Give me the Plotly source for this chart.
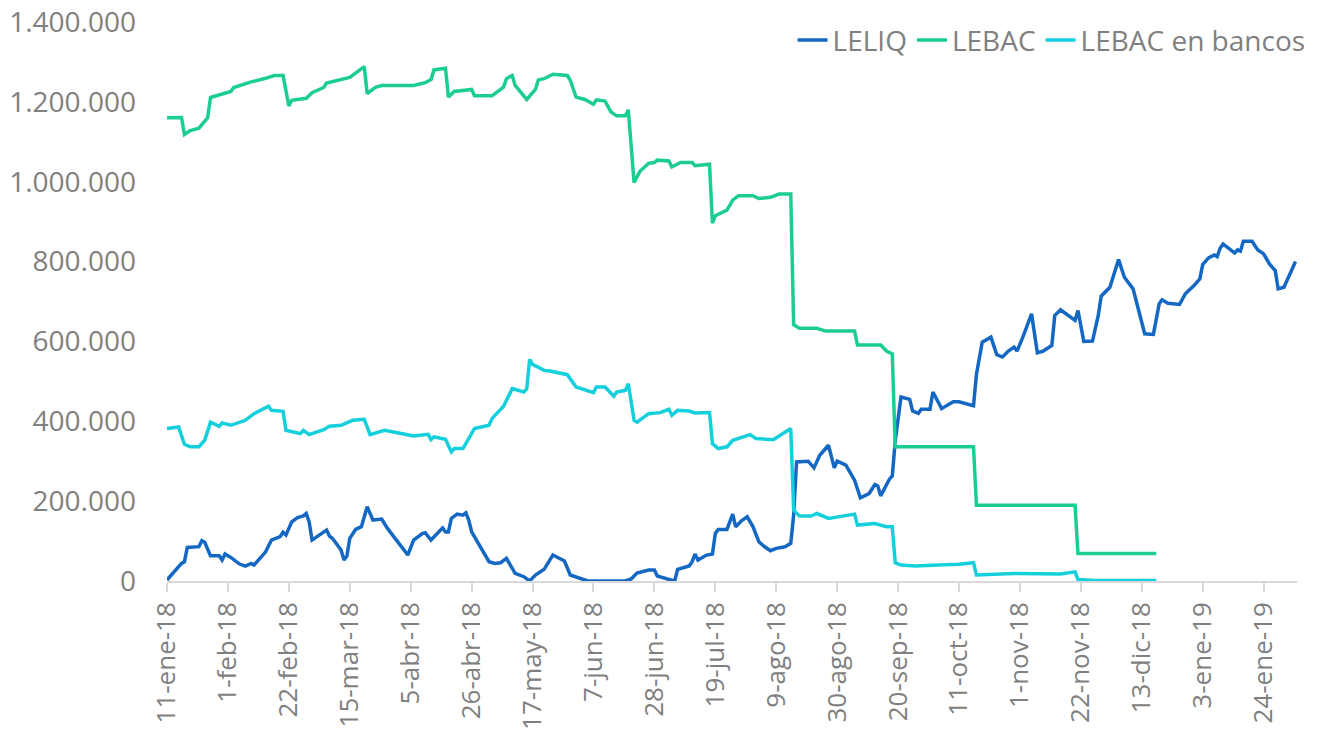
import plotly.graph_objects as go

# ---------------- data ----------------
leliq_dates = [
    "2018-01-11", "2018-01-13", "2018-01-16", "2018-01-17", "2018-01-18", "2018-01-22", "2018-01-23",
    "2018-01-24", "2018-01-26", "2018-01-29", "2018-01-30", "2018-01-31", "2018-02-02", "2018-02-05",
    "2018-02-07", "2018-02-09", "2018-02-10", "2018-02-14", "2018-02-16", "2018-02-19", "2018-02-20",
    "2018-02-21", "2018-02-23", "2018-02-25", "2018-02-27", "2018-02-28", "2018-03-01", "2018-03-02",
    "2018-03-06", "2018-03-07", "2018-03-08", "2018-03-09", "2018-03-12", "2018-03-13", "2018-03-14",
    "2018-03-15", "2018-03-17", "2018-03-19", "2018-03-21", "2018-03-23", "2018-03-26", "2018-03-28",
    "2018-04-04", "2018-04-06", "2018-04-09", "2018-04-10", "2018-04-12", "2018-04-15", "2018-04-16",
    "2018-04-17", "2018-04-18", "2018-04-19", "2018-04-21", "2018-04-23", "2018-04-24", "2018-04-25",
    "2018-04-26", "2018-05-02", "2018-05-04", "2018-05-06", "2018-05-08", "2018-05-09", "2018-05-11",
    "2018-05-14", "2018-05-16", "2018-05-18", "2018-05-21", "2018-05-24", "2018-05-28", "2018-05-30",
    "2018-06-02", "2018-06-05", "2018-06-18", "2018-06-20", "2018-06-22", "2018-06-26", "2018-06-28",
    "2018-06-29", "2018-07-03", "2018-07-05", "2018-07-06", "2018-07-10", "2018-07-11", "2018-07-12",
    "2018-07-13", "2018-07-16", "2018-07-18", "2018-07-19", "2018-07-20", "2018-07-23", "2018-07-25",
    "2018-07-26", "2018-07-28", "2018-07-30", "2018-08-01", "2018-08-03", "2018-08-05", "2018-08-07",
    "2018-08-09", "2018-08-12", "2018-08-14", "2018-08-15", "2018-08-16", "2018-08-20", "2018-08-22",
    "2018-08-24", "2018-08-27", "2018-08-29", "2018-08-30", "2018-09-02", "2018-09-05", "2018-09-07",
    "2018-09-10", "2018-09-12", "2018-09-13", "2018-09-14", "2018-09-17", "2018-09-18", "2018-09-19",
    "2018-09-21", "2018-09-24", "2018-09-25", "2018-09-27", "2018-09-28", "2018-10-01", "2018-10-02",
    "2018-10-05", "2018-10-09", "2018-10-11", "2018-10-16", "2018-10-17", "2018-10-19", "2018-10-22",
    "2018-10-24", "2018-10-26", "2018-10-28", "2018-10-30", "2018-10-31", "2018-11-02", "2018-11-05",
    "2018-11-07", "2018-11-09", "2018-11-12", "2018-11-13", "2018-11-15", "2018-11-20", "2018-11-21",
    "2018-11-23", "2018-11-26", "2018-11-28", "2018-11-29", "2018-12-02", "2018-12-05", "2018-12-07",
    "2018-12-10", "2018-12-12", "2018-12-14", "2018-12-17", "2018-12-19", "2018-12-20", "2018-12-22",
    "2018-12-26", "2018-12-28", "2018-12-31", "2019-01-02", "2019-01-03", "2019-01-05", "2019-01-07",
    "2019-01-08", "2019-01-09", "2019-01-10", "2019-01-14", "2019-01-15", "2019-01-16", "2019-01-17",
    "2019-01-20", "2019-01-22", "2019-01-24", "2019-01-26", "2019-01-28", "2019-01-29", "2019-01-31",
    "2019-02-04",
]
leliq_values = [
    2500, 19000, 44000, 48000, 84000, 86000, 101000,
    97000, 63000, 63000, 52500, 67500, 59000, 42500,
    37500, 44000, 40000, 73000, 102500, 111000, 122000,
    115000, 148000, 159000, 163000, 169000, 148000, 102500,
    123000, 127500, 112500, 107000, 77500, 52500, 62500,
    107000, 129000, 136000, 186000, 152500, 155000, 131700,
    65000, 102500, 119000, 121000, 102500, 127500, 133000,
    123000, 123000, 156700, 167500, 165000, 170800, 152500,
    123300, 48300, 44000, 45800, 56700, 44000, 19200,
    10800, 0, 15000, 29200, 65000, 50000, 15000,
    8300, 0, 0, 5000, 20000, 27500, 27500,
    12500, 4000, 0, 29000, 37500, 48300, 67500,
    52500, 65000, 67500, 119000, 129000, 129000, 167500,
    135800, 150800, 160800, 135800, 98300, 85800, 75800,
    81700, 85800, 94200, 165000, 298300, 300000, 283300,
    315000, 340000, 283300, 300000, 290000, 252500, 208300,
    219000, 241700, 238000, 213300, 255000, 263000, 350000,
    460800, 455000, 426000, 420000, 430000, 430000, 473300,
    431700, 449000, 449000, 439000, 517000, 598300, 610800,
    567000, 561000, 575800, 585800, 575800, 610800, 669200,
    571700, 575800, 590000, 665000, 679200, 652500, 677500,
    600000, 600800, 665000, 713300, 735800, 805000, 760800,
    731700, 677500, 619200, 617500, 694200, 704200, 695800,
    692500, 719200, 740000, 756700, 792500, 809200, 816700,
    812500, 833300, 844200, 821700, 829200, 826000, 850800,
    850800, 829200, 819200, 794200, 777500, 731700, 735800,
    800000,
]

lebac_dates = [
    "2018-01-11", "2018-01-16", "2018-01-17", "2018-01-19", "2018-01-22", "2018-01-25", "2018-01-26",
    "2018-01-29", "2018-02-02", "2018-02-03", "2018-02-09", "2018-02-14", "2018-02-17", "2018-02-20",
    "2018-02-22", "2018-02-23", "2018-02-28", "2018-03-02", "2018-03-06", "2018-03-07", "2018-03-09",
    "2018-03-15", "2018-03-20", "2018-03-21", "2018-03-24", "2018-03-26", "2018-04-06", "2018-04-10",
    "2018-04-12", "2018-04-13", "2018-04-17", "2018-04-18", "2018-04-20", "2018-04-26", "2018-04-27",
    "2018-05-03", "2018-05-07", "2018-05-08", "2018-05-10", "2018-05-11", "2018-05-15", "2018-05-18",
    "2018-05-19", "2018-05-21", "2018-05-24", "2018-05-29", "2018-05-30", "2018-06-01", "2018-06-04",
    "2018-06-07", "2018-06-08", "2018-06-11", "2018-06-13", "2018-06-15", "2018-06-18", "2018-06-19",
    "2018-06-21", "2018-06-23", "2018-06-26", "2018-06-28", "2018-06-29", "2018-07-03", "2018-07-04",
    "2018-07-07", "2018-07-11", "2018-07-12", "2018-07-17", "2018-07-18", "2018-07-19", "2018-07-23",
    "2018-07-25", "2018-07-27", "2018-08-01", "2018-08-03", "2018-08-07", "2018-08-10", "2018-08-14",
    "2018-08-15", "2018-08-17", "2018-08-23", "2018-08-26", "2018-09-05", "2018-09-06", "2018-09-14",
    "2018-09-16", "2018-09-18", "2018-09-19", "2018-10-16", "2018-10-17", "2018-11-20", "2018-11-21",
    "2018-12-18",
]
lebac_values = [
    1160000, 1161000, 1118000, 1128000, 1134000, 1160000, 1211000,
    1217000, 1226000, 1236000, 1250000, 1259000, 1266000, 1266000,
    1190000, 1204000, 1209000, 1223000, 1236000, 1247000, 1251000,
    1261000, 1288000, 1221000, 1237000, 1241000, 1241000, 1248000,
    1256000, 1280000, 1284000, 1212000, 1226000, 1231000, 1215000,
    1215000, 1237000, 1258000, 1266000, 1241000, 1206000, 1231000,
    1255000, 1258000, 1269000, 1266000, 1254000, 1212000, 1206000,
    1194000, 1205000, 1202000, 1175000, 1165000, 1165000, 1180000,
    998000, 1026000, 1046000, 1048000, 1054000, 1052000, 1037000,
    1048000, 1048000, 1040000, 1044000, 896000, 915000, 929000,
    954000, 965000, 965000, 958000, 961000, 969000, 969000,
    642000, 633000, 633000, 626000, 626000, 591000, 591000,
    576000, 569000, 336000, 336000, 190000, 190000, 69000,
    69000,
]

bancos_dates = [
    "2018-01-11", "2018-01-15", "2018-01-17", "2018-01-19", "2018-01-22", "2018-01-24", "2018-01-26",
    "2018-01-29", "2018-01-30", "2018-02-02", "2018-02-07", "2018-02-10", "2018-02-15", "2018-02-16",
    "2018-02-20", "2018-02-21", "2018-02-26", "2018-02-27", "2018-03-01", "2018-03-06", "2018-03-08",
    "2018-03-12", "2018-03-16", "2018-03-20", "2018-03-22", "2018-03-27", "2018-04-03", "2018-04-06",
    "2018-04-11", "2018-04-12", "2018-04-13", "2018-04-17", "2018-04-19", "2018-04-20", "2018-04-23",
    "2018-04-24", "2018-04-27", "2018-05-02", "2018-05-03", "2018-05-07", "2018-05-10", "2018-05-14",
    "2018-05-15", "2018-05-16", "2018-05-17", "2018-05-21", "2018-05-23", "2018-05-29", "2018-06-01",
    "2018-06-07", "2018-06-08", "2018-06-11", "2018-06-14", "2018-06-15", "2018-06-18", "2018-06-19",
    "2018-06-21", "2018-06-22", "2018-06-26", "2018-06-30", "2018-07-03", "2018-07-04", "2018-07-06",
    "2018-07-10", "2018-07-12", "2018-07-17", "2018-07-18", "2018-07-20", "2018-07-23", "2018-07-25",
    "2018-07-31", "2018-08-02", "2018-08-08", "2018-08-14", "2018-08-15", "2018-08-17", "2018-08-21",
    "2018-08-23", "2018-08-27", "2018-09-05", "2018-09-06", "2018-09-12", "2018-09-16", "2018-09-18",
    "2018-09-19", "2018-09-21", "2018-09-26", "2018-10-04", "2018-10-11", "2018-10-16", "2018-10-17",
    "2018-10-30", "2018-11-15", "2018-11-20", "2018-11-21", "2018-11-27", "2018-12-18",
]
bancos_values = [
    381700, 385800, 342500, 336000, 336000, 352500, 398000,
    387500, 396000, 390000, 402500, 419000, 437500, 427500,
    425000, 377500, 369000, 377500, 366700, 379000, 387500,
    390000, 402500, 405000, 366700, 377500, 367500, 363300,
    367500, 354000, 361000, 355000, 323300, 331700, 331700,
    344000, 381700, 390000, 406700, 437500, 481700, 473300,
    481700, 555000, 542500, 527500, 526000, 516700, 485800,
    471700, 485800, 485800, 463000, 473300, 477500, 494000,
    402500, 398000, 419000, 421700, 430000, 415000, 427500,
    425800, 420800, 421700, 344000, 331700, 336000, 352500,
    366700, 356700, 354000, 381700, 177500, 162500, 162500,
    169000, 156700, 167500, 140000, 144000, 135800, 135800,
    45800, 40000, 37500, 40000, 41700, 45800, 15000,
    19000, 17500, 23000, 4000, 1000, 1000,
]

series_names = ["LELIQ", "LEBAC", "LEBAC en bancos"]

x_tick_dates = [
    "2018-01-11", "2018-02-01", "2018-02-22", "2018-03-15", "2018-04-05", "2018-04-26",
    "2018-05-17", "2018-06-07", "2018-06-28", "2018-07-19", "2018-08-09", "2018-08-30",
    "2018-09-20", "2018-10-11", "2018-11-01", "2018-11-22", "2018-12-13", "2019-01-03",
    "2019-01-24",
]
x_tick_labels = [
    "11-ene-18", "1-feb-18", "22-feb-18", "15-mar-18", "5-abr-18", "26-abr-18",
    "17-may-18", "7-jun-18", "28-jun-18", "19-jul-18", "9-ago-18", "30-ago-18",
    "20-sep-18", "11-oct-18", "1-nov-18", "22-nov-18", "13-dic-18", "3-ene-19",
    "24-ene-19",
]
y_tick_values = [0, 200000, 400000, 600000, 800000, 1000000, 1200000, 1400000]
y_tick_labels = ["0", "200.000", "400.000", "600.000", "800.000", "1.000.000", "1.200.000", "1.400.000"]

# ---------------- figure ----------------
colors = ["#1468c4", "#1ccd93", "#14cfdc"]
FONT = "Open Sans"
GREY = "#808080"

fig = go.Figure()
for name, xs, ys, c in zip(series_names,
                           [leliq_dates, lebac_dates, bancos_dates],
                           [leliq_values, lebac_values, bancos_values],
                           colors):
    fig.add_trace(go.Scatter(x=xs, y=ys, mode="lines", name=name,
                             line=dict(color=c, width=3.5)))

fig.update_layout(
    width=1320, height=749,
    margin=dict(l=167, r=23, t=22, b=168, autoexpand=False),
    paper_bgcolor="white", plot_bgcolor="white",
    font=dict(family=FONT, color=GREY, size=24),
    showlegend=True,
    legend=dict(orientation="h", x=1.012, xanchor="right", y=1.012, yanchor="top",
                font=dict(size=28, color=GREY), bgcolor="rgba(0,0,0,0)",
                tracegroupgap=0),
)
fig.update_xaxes(
    type="date", range=["2018-01-11", "2019-02-04 12:00"],
    tickmode="array", tickvals=x_tick_dates, ticktext=x_tick_labels,
    tickangle=-90, ticks="outside", ticklen=9, tickwidth=1.5, tickcolor="#d9d9d9",
    showline=True, linecolor="#d9d9d9", linewidth=1.5,
    showgrid=False, zeroline=False, automargin=False,
    tickfont=dict(family=FONT, size=26, color=GREY),
)
fig.update_yaxes(
    range=[0, 1400000],
    tickmode="array", tickvals=y_tick_values, ticktext=y_tick_labels,
    showgrid=False, zeroline=False, showline=False, ticks="",
    ticklabelstandoff=30, automargin=False,
    ticklabeloverflow="allow",
    tickfont=dict(family=FONT, size=28, color=GREY),
)

# remove the default page margin so the figure starts at the window's corner
fig.write_html("out.html", config={"displayModeBar": False},
               post_script="document.body.style.margin='0px';")
